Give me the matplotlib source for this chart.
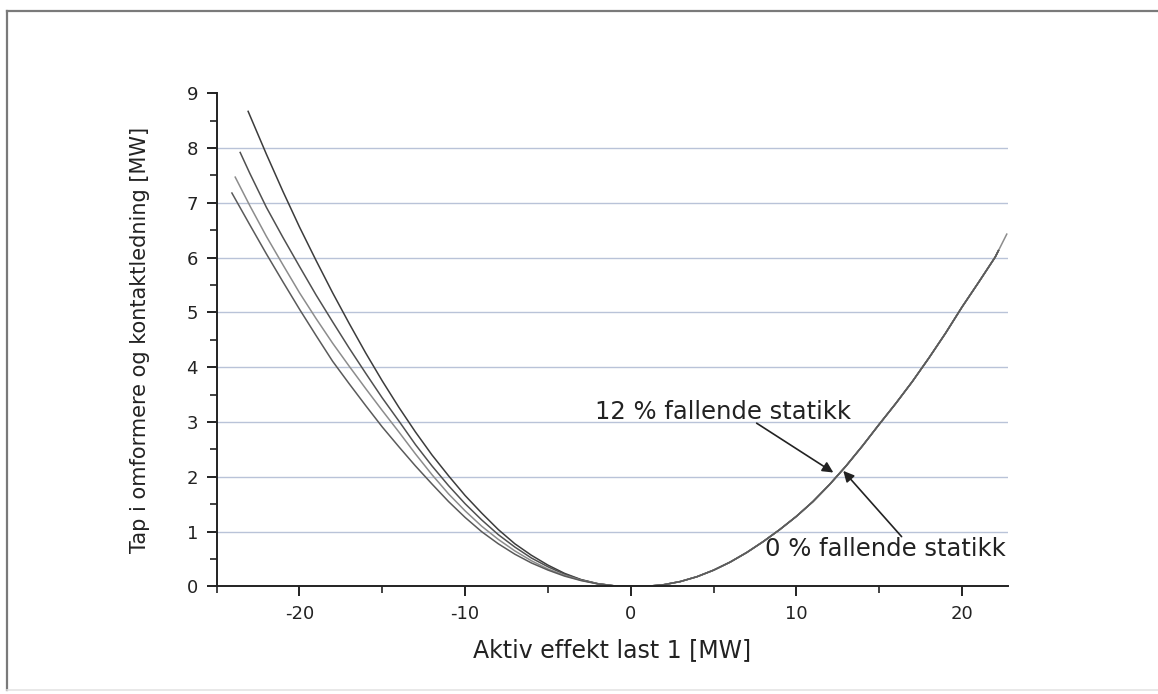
import matplotlib
matplotlib.use('Agg')
import matplotlib.pyplot as plt
from matplotlib.lines import Line2D
from matplotlib.ticker import MultipleLocator

plt.rcParams['axes.unicode_minus'] = False

# right branch, shared by all four curves
right_x = [0.5, 1, 2, 3, 4, 5, 6, 7, 8, 9, 10, 11, 12, 13, 14, 15, 16, 17, 18, 19, 20, 21, 22, 22.2]
right_y = [0.0, 0.004, 0.033, 0.091, 0.179, 0.298, 0.445, 0.62, 0.82, 1.04, 1.28, 1.55, 1.86, 2.2,
           2.57, 2.96, 3.34, 3.74, 4.17, 4.62, 5.1, 5.55, 6.01, 6.13]

# left branches, one per curve (steepest first)
a_x = [-23.1, -22, -21, -20, -19, -18, -17, -16, -15, -14, -13, -12, -11, -10, -9, -8, -7, -6, -5, -4, -3, -2, -1, 0]
a_y = [8.67, 7.89, 7.21, 6.56, 5.95, 5.36, 4.8, 4.26, 3.75, 3.27, 2.82, 2.4, 2.02, 1.66, 1.34, 1.04, 0.78,
       0.57, 0.39, 0.24, 0.126, 0.052, 0.012, 0.0]
b_x = [-23.58, -23, -22, -21, -20, -19, -18, -17, -16, -15, -14, -13, -12, -11, -10, -9, -8, -7, -6, -5, -4, -3, -2, -1, 0]
b_y = [7.92, 7.54, 6.92, 6.37, 5.84, 5.32, 4.83, 4.35, 3.89, 3.44, 3.02, 2.59, 2.2, 1.84, 1.51, 1.215, 0.947,
       0.72, 0.52, 0.36, 0.224, 0.122, 0.052, 0.012, 0.0]
c_x = [-23.88, -23, -22, -21, -20, -19, -18, -17, -16, -15, -14, -13, -12, -11, -10, -9, -8, -7, -6, -5, -4, -3, -2, -1, 0]
c_y = [7.47, 6.95, 6.39, 5.87, 5.36, 4.89, 4.44, 4.02, 3.61, 3.21, 2.82, 2.42, 2.04, 1.69, 1.38, 1.1, 0.86,
       0.65, 0.47, 0.32, 0.205, 0.114, 0.05, 0.012, 0.0]
d_x = [-24.08, -23, -22, -21, -20, -19, -18, -17, -16, -15, -14, -13, -12, -11, -10, -9, -8, -7, -6, -5, -4, -3, -2, -1, 0]
d_y = [7.18, 6.6, 6.07, 5.56, 5.06, 4.58, 4.11, 3.7, 3.3, 2.91, 2.55, 2.2, 1.87, 1.55, 1.26, 1.0, 0.78,
       0.59, 0.43, 0.3, 0.19, 0.108, 0.048, 0.012, 0.0]

# the light curve runs a bit further on the right
c_tail_x = [22.7]
c_tail_y = [6.43]

curves = [
    (a_x + right_x, a_y + right_y, '#3c3c3c'),
    (b_x + right_x, b_y + right_y, '#505050'),
    (c_x + right_x + c_tail_x, c_y + right_y + c_tail_y, '#8c8c8c'),
    (d_x + right_x, d_y + right_y, '#5a5a5a'),
]

fig = plt.figure(figsize=(11.58, 6.94), dpi=100)
ax = fig.add_axes([0.1871, 0.1549, 0.6833, 0.7107])

for xs, ys, col in curves:
    ax.plot(xs, ys, color=col, lw=1.1)

ax.set_xlim(-25, 22.77)
ax.set_ylim(0, 9)

for v in range(1, 9):
    ax.axhline(v, color='#b9c3d8', lw=1.0, zorder=0)

ax.spines['top'].set_visible(False)
ax.spines['right'].set_visible(False)
for s in ['left', 'bottom']:
    ax.spines[s].set_linewidth(1.4)
    ax.spines[s].set_color('#222222')

ax.xaxis.set_major_locator(MultipleLocator(10))
ax.xaxis.set_minor_locator(MultipleLocator(5))
ax.yaxis.set_major_locator(MultipleLocator(1))
ax.yaxis.set_minor_locator(MultipleLocator(0.5))
ax.tick_params(which='major', direction='out', length=7.5, width=1.4, pad=6,
               labelsize=13, colors='#222222')
ax.tick_params(which='minor', direction='out', length=4.8, width=1.2, colors='#222222')

ax.set_xlabel('Aktiv effekt last 1 [MW]', fontsize=17, color='#222222', labelpad=11)
ax.set_ylabel('Tap i omformere og kontaktledning [MW]', fontsize=15, color='#222222', labelpad=26)

arrow = dict(arrowstyle='-|>', color='#222222', lw=1.2, mutation_scale=16,
             shrinkA=0, shrinkB=0)
ax.annotate('', xy=(12.23, 2.08), xytext=(7.6, 2.98), arrowprops=arrow)
ax.annotate('', xy=(12.83, 2.11), xytext=(16.35, 0.91), arrowprops=arrow)
ax.text(-2.15, 3.18, '12 % fallende statikk', fontsize=17.5, color='#222222',
        ha='left', va='center')
ax.text(8.1, 0.68, '0 % fallende statikk', fontsize=17.5, color='#222222',
        ha='left', va='center')

# scanned page frame
fig.add_artist(Line2D([7 / 1158, 1], [1 - 11 / 694, 1 - 11 / 694], color='#7a7a7a', lw=1.6,
                      transform=fig.transFigure))
fig.add_artist(Line2D([7 / 1158, 7 / 1158], [1 - 11 / 694, 4 / 694], color='#7a7a7a', lw=1.6,
                      transform=fig.transFigure))
fig.add_artist(Line2D([7 / 1158, 1], [4 / 694, 4 / 694], color='#e4e4e4', lw=1.2,
                      transform=fig.transFigure))

fig.savefig('out.png', dpi=100)
